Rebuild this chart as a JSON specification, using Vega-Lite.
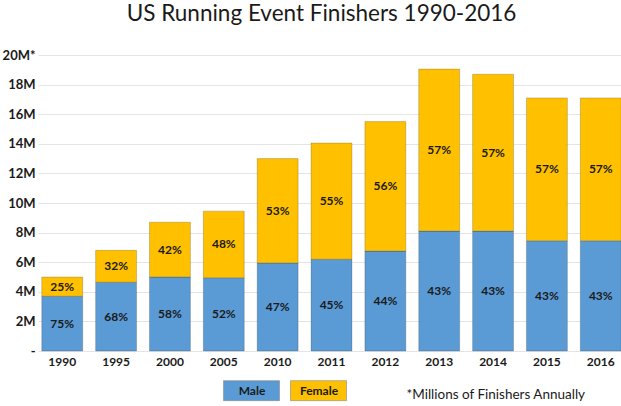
{
  "$schema": "https://vega.github.io/schema/vega-lite/v6.json",
  "autosize": "none",
  "width": 583,
  "height": 296,
  "padding": {"left": 38, "top": 55, "right": 0, "bottom": 55},
  "background": "white",
  "title": {
    "text": "US Running Event Finishers 1990-2016",
    "font": "Lato",
    "fontSize": 22.5,
    "fontWeight": "normal",
    "color": "#1a1a1a",
    "anchor": "middle",
    "dx": -8,
    "offset": 24
  },
  "data": {
    "values": [
      {"year": "1990", "sex": "Male", "value": 3.7, "pct": "75%"},
      {"year": "1990", "sex": "Female", "value": 1.3, "pct": "25%"},
      {"year": "1995", "sex": "Male", "value": 4.65, "pct": "68%"},
      {"year": "1995", "sex": "Female", "value": 2.15, "pct": "32%"},
      {"year": "2000", "sex": "Male", "value": 5.0, "pct": "58%"},
      {"year": "2000", "sex": "Female", "value": 3.7, "pct": "42%"},
      {"year": "2005", "sex": "Male", "value": 4.95, "pct": "52%"},
      {"year": "2005", "sex": "Female", "value": 4.5, "pct": "48%"},
      {"year": "2010", "sex": "Male", "value": 5.95, "pct": "47%"},
      {"year": "2010", "sex": "Female", "value": 7.05, "pct": "53%"},
      {"year": "2011", "sex": "Male", "value": 6.2, "pct": "45%"},
      {"year": "2011", "sex": "Female", "value": 7.85, "pct": "55%"},
      {"year": "2012", "sex": "Male", "value": 6.75, "pct": "44%"},
      {"year": "2012", "sex": "Female", "value": 8.75, "pct": "56%"},
      {"year": "2013", "sex": "Male", "value": 8.1, "pct": "43%"},
      {"year": "2013", "sex": "Female", "value": 10.95, "pct": "57%"},
      {"year": "2014", "sex": "Male", "value": 8.1, "pct": "43%"},
      {"year": "2014", "sex": "Female", "value": 10.6, "pct": "57%"},
      {"year": "2015", "sex": "Male", "value": 7.45, "pct": "43%"},
      {"year": "2015", "sex": "Female", "value": 9.65, "pct": "57%"},
      {"year": "2016", "sex": "Male", "value": 7.45, "pct": "43%"},
      {"year": "2016", "sex": "Female", "value": 9.65, "pct": "57%"}
    ]
  },
  "transform": [
    {"calculate": "datum.sex === 'Male' ? 0 : 1", "as": "ord"},
    {"stack": "value", "groupby": ["year"], "sort": [{"field": "ord", "order": "ascending"}], "as": ["v0", "v1"]},
    {"calculate": "(datum.v0 + datum.v1) / 2", "as": "mid"}
  ],
  "encoding": {
    "x": {
      "field": "year",
      "type": "ordinal",
      "scale": {"range": [0, 587], "paddingInner": 0.24, "paddingOuter": 0.07},
      "axis": {
        "title": "*Millions of Finishers Annually",
        "titleFont": "Lato",
        "titleFontSize": 13.5,
        "titleFontWeight": "normal",
        "titleColor": "#1a1a1a",
        "titleAnchor": "start",
        "titleAlign": "left",
        "titleBaseline": "alphabetic",
        "titleX": 368,
        "titleY": 47,
        "labelAngle": 0,
        "labelFont": "Lato",
        "labelFontSize": 12,
        "labelFontWeight": "bold",
        "labelColor": "#1a1a1a",
        "labelPadding": 5,
        "ticks": false,
        "domain": false
      }
    },
    "y": {
      "field": "v0",
      "type": "quantitative",
      "scale": {"domain": [0, 20], "nice": false},
      "axis": {
        "title": null,
        "values": [0, 2, 4, 6, 8, 10, 12, 14, 16, 18, 20],
        "labelOverlap": false,
        "labelExpr": "datum.value === 0 ? '-\u00a0\u00a0\u00a0\u00a0' : datum.value === 20 ? '20M*' : datum.value + 'M'",
        "labelFont": "Lato",
        "labelFontSize": 13,
        "labelFontWeight": "bold",
        "labelColor": "#1a1a1a",
        "labelPadding": 3,
        "ticks": false,
        "domain": false,
        "gridColor": "#e4e4e4",
        "gridWidth": 1
      }
    }
  },
  "layer": [
    {
      "mark": {"type": "bar", "stroke": "#000", "strokeOpacity": 0.18, "strokeWidth": 1},
      "encoding": {
        "y2": {"field": "v1"},
        "color": {
          "field": "sex",
          "type": "nominal",
          "scale": {"domain": ["Male", "Female"], "range": ["#5B9BD5", "#FFC000"]},
          "legend": {
            "title": null,
            "orient": "none",
            "legendX": 193,
            "legendY": 315,
            "padding": 0,
            "direction": "horizontal",
            "symbolType": "M-1.4,-0.5H1.4V0.5H-1.4Z",
            "symbolSize": 1600,
            "symbolStrokeColor": "#8a8a8a",
            "symbolStrokeWidth": 0.6,
            "symbolOpacity": 1,
            "labelAlign": "center",
            "labelOffset": -20,
            "labelFont": "Lato",
            "labelFontSize": 12,
            "labelFontWeight": "bold",
            "labelColor": "#1a1a1a",
            "columnPadding": 8
          }
        }
      }
    },
    {
      "mark": {"type": "text", "font": "Lato", "fontSize": 12, "fontWeight": "bold", "color": "#1a1a1a"},
      "encoding": {
        "y": {"field": "mid", "type": "quantitative"},
        "text": {"field": "pct"}
      }
    }
  ],
  "config": {"view": {"stroke": null}}
}
